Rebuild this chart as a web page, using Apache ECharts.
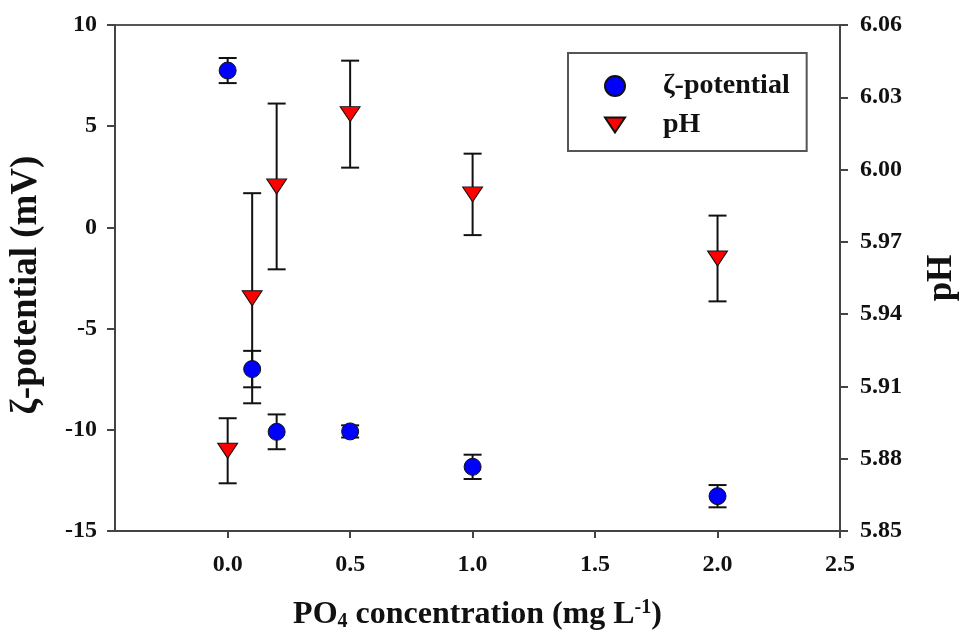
<!DOCTYPE html>
<html>
<head>
<meta charset="utf-8">
<script src="https://cdn.jsdelivr.net/npm/echarts@6/dist/echarts.min.js"></script>
<style>html,body{margin:0;padding:0;background:#fff}#c{width:960px;height:636px}</style>
</head>
<body>
<div id="c"></div>
<script>
// ---- data ----
const concentration = [0, 0.1, 0.2, 0.5, 1.0, 2.0];
const zetaMean = [7.75, -7.0, -10.1, -10.08, -11.83, -13.28];
const zetaErr  = [0.62, 0.9, 0.86, 0.3, 0.6, 0.55];
const pHMean   = [5.8833, 5.9466, 5.9930, 6.0230, 5.9897, 5.9631];
const pHErr    = [0.0135, 0.0436, 0.0344, 0.0222, 0.0169, 0.0178];
const xTicks   = [0, 0.5, 1.0, 1.5, 2.0, 2.5];
const zetaTicks = [-15, -10, -5, 0, 5, 10];
const pHTicks  = [5.85, 5.88, 5.91, 5.94, 5.97, 6.00, 6.03, 6.06];

const FONT = 'Liberation Serif';
const chart = echarts.init(document.getElementById('c'), null, {renderer: 'canvas'});

function errData(means, errs) {
  return concentration.map((x, i) => [x, means[i] - errs[i], means[i] + errs[i]]);
}
function errRender(params, api) {
  const x = api.value(0);
  const lo = api.coord([x, api.value(1)]);
  const hi = api.coord([x, api.value(2)]);
  const cap = 9;
  const style = {stroke: '#111', lineWidth: 2};
  return {
    type: 'group',
    children: [
      {type: 'line', shape: {x1: lo[0], y1: lo[1], x2: hi[0], y2: hi[1]}, style},
      {type: 'line', shape: {x1: lo[0] - cap, y1: lo[1], x2: lo[0] + cap, y2: lo[1]}, style},
      {type: 'line', shape: {x1: hi[0] - cap, y1: hi[1], x2: hi[0] + cap, y2: hi[1]}, style}
    ]
  };
}

const axisLineStyle = {color: '#444', width: 2};
const labelStyle = {fontFamily: FONT, fontWeight: 'bold', fontSize: 24, color: '#111'};

const option = {
  backgroundColor: '#fff',
  animation: false,
  grid: {left: 115, right: 120, top: 25, bottom: 105, show: true, borderColor: '#555', borderWidth: 2,
         containLabel: false, outerBoundsMode: 'none'},
  legend: {
    left: 568, top: 53,
    orient: 'vertical',
    itemWidth: 20, itemHeight: 20, itemGap: 11,
    padding: [19, 17, 12, 36],
    borderColor: '#555', borderWidth: 2,
    textStyle: {fontFamily: FONT, fontWeight: 'bold', fontSize: 28, lineHeight: 18, color: '#111', padding: [0, 0, 0, 33]},
    data: [
      {name: 'ζ-potential', icon: 'circle'},
      {name: 'pH', icon: 'path://M0,0L20,0L10,15Z'}
    ]
  },
  xAxis: {
    type: 'value', min: -0.46, max: 2.5,
    splitLine: {show: false},
    axisLine: {onZero: false, lineStyle: axisLineStyle},
    axisTick: {show: true, length: 7, lineStyle: axisLineStyle, customValues: xTicks},
    axisLabel: {customValues: xTicks, margin: 22, formatter: v => v.toFixed(1), ...labelStyle},
    name: 'PO{sub|4} concentration (mg L{sup|-1})',
    nameLocation: 'middle', nameGap: 66,
    nameTextStyle: {
      fontFamily: FONT, fontWeight: 'bold', fontSize: 32, color: '#111',
      rich: {
        sub: {fontFamily: FONT, fontWeight: 'bold', fontSize: 20, color: '#111', padding: [15, 0, 0, 0]},
        sup: {fontFamily: FONT, fontWeight: 'bold', fontSize: 20, color: '#111', padding: [0, 0, 13, 0]}
      }
    }
  },
  yAxis: [
    {
      type: 'value', min: -15, max: 10, interval: 5,
      splitLine: {show: false},
      axisLine: {show: true, onZero: false, lineStyle: axisLineStyle},
      axisTick: {show: true, length: 8, lineStyle: axisLineStyle},
      axisLabel: {margin: 18, ...labelStyle},
      name: 'ζ-potential (mV)', nameLocation: 'middle', nameRotate: 90, nameGap: 70,
      nameTextStyle: {fontFamily: FONT, fontWeight: 'bold', fontSize: 37, color: '#111', padding: [0, 14, 0, 0]}
    },
    {
      type: 'value', min: 5.85, max: 6.06, interval: 0.03, position: 'right',
      splitLine: {show: false},
      axisLine: {show: true, onZero: false, lineStyle: axisLineStyle},
      axisTick: {show: true, length: 8, lineStyle: axisLineStyle},
      axisLabel: {margin: 20, formatter: v => v.toFixed(2), ...labelStyle},
      name: 'pH', nameLocation: 'middle', nameRotate: 90, nameGap: 84,
      nameTextStyle: {fontFamily: FONT, fontWeight: 'bold', fontSize: 35, color: '#111'}
    }
  ],
  series: [
    {
      type: 'custom', name: 'zetaErr', yAxisIndex: 0, z: 2, silent: true,
      renderItem: errRender, data: errData(zetaMean, zetaErr)
    },
    {
      type: 'custom', name: 'pHErr', yAxisIndex: 1, z: 2, silent: true,
      renderItem: errRender, data: errData(pHMean, pHErr)
    },
    {
      type: 'scatter', name: 'ζ-potential', yAxisIndex: 0, z: 5,
      symbol: 'circle', symbolSize: 17,
      itemStyle: {color: '#0000ff', borderColor: '#111', borderWidth: 1, opacity: 1},
      data: concentration.map((x, i) => [x, zetaMean[i]])
    },
    {
      type: 'scatter', name: 'pH', yAxisIndex: 1, z: 5,
      symbol: 'triangle', symbolRotate: 180, symbolSize: [20, 15],
      itemStyle: {color: '#ff0000', borderColor: '#111', borderWidth: 1, opacity: 1},
      data: concentration.map((x, i) => [x, pHMean[i]])
    }
  ]
};
chart.setOption(option);
</script>
</body>
</html>
